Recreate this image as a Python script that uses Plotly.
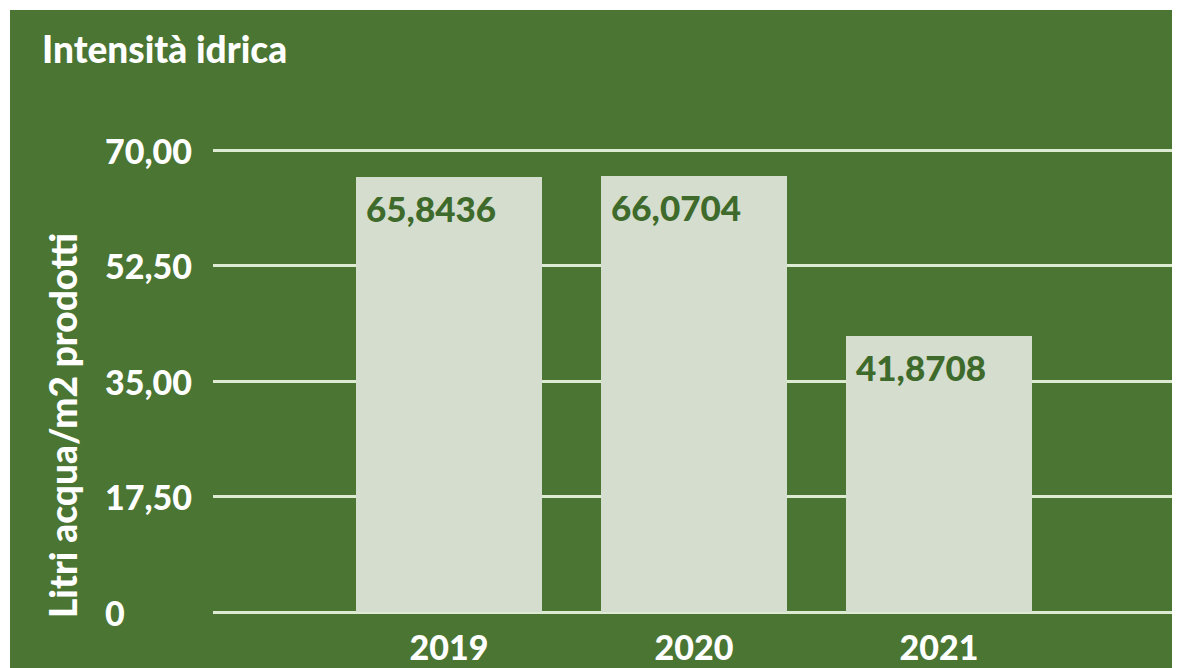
import plotly.graph_objects as go

# Water intensity by year (litres of water per m2 produced)
years = ["2019", "2020", "2021"]
values = [65.8436, 66.0704, 41.8708]
tick_vals = [0, 17.5, 35, 52.5, 70]
tick_text = ["0", "17,50", "35,00", "52,50", "70,00"]

GREEN = "#4a7533"
BAR = "#d4ddce"
GRID = "#dcebd2"
LABEL = "#3e6a2b"
FONT = "Lato"
HEAVY = 900

W, H = 1178, 668
L, R, T, B = 213, 6, 147, 56
pw, ph = W - L - R, H - T - B
Y_TOP = 70 + 3 / 6.6  # a little headroom so the 70 gridline is kept


def px_x(x):
    return (x - L) / pw


def px_y(y):
    return (H - B - y) / ph


bar_width = 0.76

fig = go.Figure(
    go.Bar(
        x=list(range(len(years))),
        y=values,
        width=bar_width,
        marker=dict(color=BAR, line=dict(width=0)),
        hoverinfo="skip",
    )
)

# value labels at the top-left inside each bar
for i, v in enumerate(values):
    fig.add_annotation(
        x=i - bar_width / 2, y=v, xref="x", yref="y",
        text=f"{v:.4f}".replace(".", ","),
        showarrow=False, xanchor="left", yanchor="top",
        xshift=8, yshift=-8,
        font=dict(family=FONT, size=35, color=LABEL, weight=HEAVY),
    )

# left-aligned y tick labels
for tv, tt in zip(tick_vals, tick_text):
    fig.add_annotation(
        x=px_x(103), y=tv, xref="paper", yref="y",
        text=tt, showarrow=False, xanchor="left", yanchor="middle",
        font=dict(family=FONT, size=34, color="white", weight=HEAVY),
    )

fig.add_annotation(
    x=px_x(40), y=px_y(48), xref="paper", yref="paper",
    text="Intensità idrica", showarrow=False,
    xanchor="left", yanchor="middle",
    font=dict(family=FONT, size=37, color="white", weight=HEAVY),
)

fig.add_annotation(
    x=px_x(62), y=px_y(426), xref="paper", yref="paper",
    text="Litri acqua/m2 prodotti", showarrow=False, textangle=-90,
    xanchor="center", yanchor="middle",
    font=dict(family=FONT, size=37, color="white", weight=HEAVY),
)

# green panel with a thin white margin on the top and left
fig.add_shape(
    type="rect", xref="paper", yref="paper", layer="below",
    x0=px_x(10), x1=1, y0=px_y(H), y1=px_y(10),
    fillcolor=GREEN, line=dict(width=0),
)

fig.update_layout(
    width=W, height=H,
    margin=dict(l=L, r=R, t=T, b=B, pad=0),
    paper_bgcolor="white",
    plot_bgcolor=GREEN,
    showlegend=False,
    bargap=0,
    xaxis=dict(
        range=[-0.963, 2.951],
        tickvals=list(range(len(years))), ticktext=years,
        showgrid=False, zeroline=False, showline=False,
        ticks="outside", ticklen=6, tickcolor="rgba(0,0,0,0)",
        tickfont=dict(family=FONT, size=34, color="white", weight=HEAVY),
        fixedrange=True, automargin=False,
    ),
    yaxis=dict(
        range=[0, Y_TOP],
        tickvals=tick_vals, showticklabels=False,
        showgrid=True, gridcolor=GRID, gridwidth=3,
        zeroline=True, zerolinecolor=GRID, zerolinewidth=3,
        showline=False, ticks="",
        fixedrange=True, automargin=False,
    ),
)

fig.write_html("out.html", config={"displayModeBar": False})
